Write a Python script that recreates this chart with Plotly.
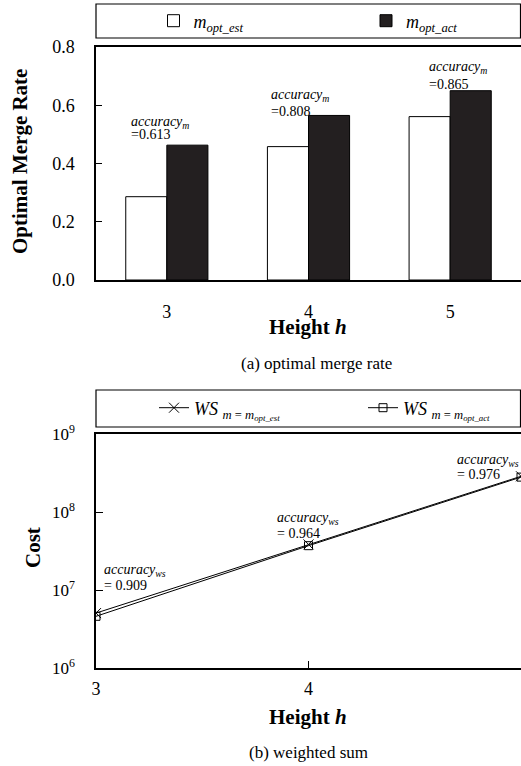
import plotly.graph_objects as go

W, H = 521, 766
FONT = "Liberation Serif"

# ---- data ----
heights = [3, 4, 5]
m_opt_est = [0.286, 0.458, 0.561]
m_opt_act = [0.463, 0.565, 0.650]
acc_m = ["0.613", "0.808", "0.865"]

ws_est = [5.06e6, 3.84e7, 2.87e8]
ws_act = [4.60e6, 3.70e7, 2.80e8]
acc_ws = ["0.909", "0.964", "0.976"]

y_ticks_a = [0.0, 0.2, 0.4, 0.6, 0.8]
y_ticks_b = [1e6, 1e7, 1e8, 1e9]
y_ticktext_b = ["10<sup>6</sup>", "10<sup>7</sup>", "10<sup>8</sup>", "10<sup>9</sup>"]


def px(x):
    return x / W


def py(y):
    return 1 - y / H


fig = go.Figure()

fig.add_trace(go.Bar(
    x=heights, y=m_opt_est, name="<i>m</i><sub><i>opt_est</i></sub>",
    marker=dict(color="white", line=dict(color="black", width=1)),
    xaxis="x", yaxis="y", legend="legend"))
fig.add_trace(go.Bar(
    x=heights, y=m_opt_act, name="<i>m</i><sub><i>opt_act</i></sub>",
    marker=dict(color="#231f20", line=dict(color="black", width=1)),
    xaxis="x", yaxis="y", legend="legend2"))

fig.add_trace(go.Scatter(
    x=heights, y=ws_est, mode="lines+markers",
    name="<i>WS</i> <sub><i>m</i> = <i>m</i><sub><i>opt_est</i></sub></sub>",
    line=dict(color="black", width=1),
    marker=dict(symbol="x-thin-open", size=10, line=dict(color="black", width=1)),
    xaxis="x2", yaxis="y2", legend="legend3"))
fig.add_trace(go.Scatter(
    x=heights, y=ws_act, mode="lines+markers",
    name="<i>WS</i> <sub><i>m</i> = <i>m</i><sub><i>opt_act</i></sub></sub>",
    line=dict(color="black", width=1),
    marker=dict(symbol="square-open", size=8, color="black", line=dict(color="black", width=1)),
    xaxis="x2", yaxis="y2", legend="legend4"))

axis_common = dict(showline=True, mirror=True, linecolor="black", linewidth=1.5,
                   showgrid=False, zeroline=False,
                   tickfont=dict(family=FONT, size=18, color="black"))

annotations = []
# accuracy annotations (a)
acc_a_pos = [(129, 122, 135), (269, 96, 111), (427, 67, 84)]
for (x0, y1, y2), v in zip(acc_a_pos, acc_m):
    annotations.append(dict(x=px(x0), y=py(y1), xref="paper", yref="paper", xanchor="left",
                            yanchor="middle", showarrow=False,
                            text="<i>accuracy</i><sub><i>m</i></sub>",
                            font=dict(family=FONT, size=14, color="black")))
    annotations.append(dict(x=px(x0), y=py(y2), xref="paper", yref="paper", xanchor="left",
                            yanchor="middle", showarrow=False, text="=" + v,
                            font=dict(family=FONT, size=14, color="black")))
acc_b_pos = [(102, 570, 585), (275, 518, 533), (455, 460, 474)]
for (x0, y1, y2), v in zip(acc_b_pos, acc_ws):
    annotations.append(dict(x=px(x0), y=py(y1), xref="paper", yref="paper", xanchor="left",
                            yanchor="middle", showarrow=False,
                            text="<i>accuracy</i><sub><i>ws</i></sub>",
                            font=dict(family=FONT, size=14, color="black")))
    annotations.append(dict(x=px(x0), y=py(y2), xref="paper", yref="paper", xanchor="left",
                            yanchor="middle", showarrow=False, text="= " + v,
                            font=dict(family=FONT, size=14, color="black")))

# titles & captions
for txt, x, y, ang, size in [
    ("<b>Height <i>h</i></b>", 308, 327, 0, 21),
    ("<b>Optimal Merge Rate</b>", 20, 162, -90, 21),
    ("(a) optimal merge rate", 316, 364, 0, 17),
    ("<b>Height <i>h</i></b>", 308, 717, 0, 21),
    ("<b>Cost</b>", 33, 548, -90, 21),
    ("(b) weighted sum", 308, 752, 0, 17),
]:
    annotations.append(dict(x=px(x), y=py(y), xref="paper", yref="paper", xanchor="center",
                            yanchor="middle", showarrow=False, text=txt, textangle=ang,
                            font=dict(family=FONT, size=size, color="black")))

shapes = [
    dict(type="rect", xref="paper", yref="paper", x0=px(96), x1=px(520.5), y0=py(38), y1=py(4),
         line=dict(color="black", width=1.2)),
    dict(type="rect", xref="paper", yref="paper", x0=px(96), x1=px(520.5), y0=py(427), y1=py(390),
         line=dict(color="black", width=1.2)),
]


def leg(xc, yc):
    return dict(orientation="h", x=px(xc - 20), y=py(yc), xanchor="left", yanchor="middle",
                xref="paper", yref="paper", bgcolor="rgba(0,0,0,0)", itemwidth=30,
                font=dict(family=FONT, size=18, color="black"))


fig.update_layout(
    width=W, height=H,
    margin=dict(l=0, r=0, t=0, b=0, pad=0, autoexpand=False),
    paper_bgcolor="white", plot_bgcolor="white",
    font=dict(family=FONT, color="black"),
    barmode="group", bargap=0.42, bargroupgap=0,
    xaxis=dict(axis_common, domain=[px(96), 1], anchor="y", range=[2.5, 5.5],
               tickvals=heights, ticks="", ticklabelstandoff=15),
    yaxis=dict(axis_common, domain=[py(280), py(47)], anchor="x", range=[0, 0.8],
               tickvals=y_ticks_a, tickformat=".1f", ticks="inside", ticklen=6,
               tickcolor="black", ticklabelstandoff=16),
    xaxis2=dict(axis_common, domain=[px(96), 1], anchor="y2", range=[3, 5],
                tickvals=heights, ticks="inside", ticklen=7, tickcolor="black",
                ticklabelstandoff=4),
    yaxis2=dict(axis_common, domain=[py(668), py(434)], anchor="x2", type="log", range=[6, 9],
                tickvals=y_ticks_b, ticktext=y_ticktext_b, ticks="inside", ticklen=7,
                tickcolor="black", ticklabelstandoff=16,
                tickfont=dict(family=FONT, size=17, color="black")),
    legend=leg(173.5, 21),
    legend2=leg(386, 21),
    legend3=leg(174, 408),
    legend4=leg(383, 408),
    annotations=annotations,
    shapes=shapes,
    showlegend=True,
)

fig.write_html("out.html",
               config={"displayModeBar": False},
               post_script="document.body.style.margin='0px';document.body.style.overflow='hidden';")
